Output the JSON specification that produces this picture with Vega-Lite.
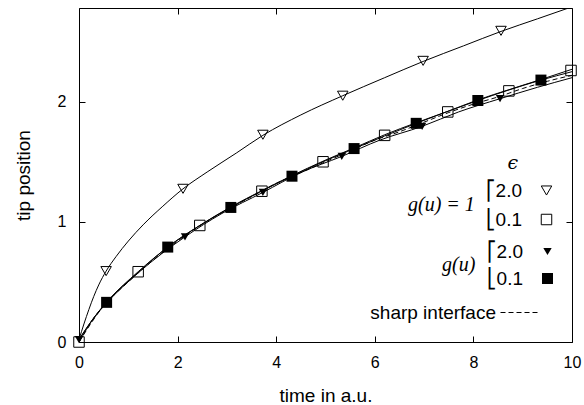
{
  "$schema": "https://vega.github.io/schema/vega-lite/v6.json",
  "width": 493,
  "height": 334,
  "autosize": "none",
  "padding": {"left": 79, "top": 8, "right": 12, "bottom": 63},
  "background": "white",
  "config": {
    "view": {"stroke": "black", "strokeWidth": 1},
    "font": "Liberation Sans",
    "mark": {"color": "black"},
    "axis": {
      "domain": false,
      "grid": false,
      "ticks": true,
      "offset": -6,
      "tickColor": "black",
      "tickSize": 6,
      "tickWidth": 1,
      "labelColor": "black",
      "labelFont": "Liberation Sans",
      "labelFontSize": 16,
      "titleColor": "black",
      "titleFont": "Liberation Sans",
      "titleFontSize": 19,
      "titleFontWeight": "normal",
      "labelFlush": false,
      "labelOverlap": false
    },
    "legend": {
      "padding": 0,
      "labelFont": "Liberation Sans",
      "labelFontSize": 19,
      "labelColor": "black",
      "labelAlign": "right",
      "labelOffset": -34,
      "titleFont": "Liberation Serif",
      "titleFontStyle": "italic",
      "titleFontWeight": "normal",
      "titleFontSize": 20,
      "titleColor": "black",
      "titleOrient": "left",
      "titleAnchor": "middle",
      "titleBaseline": "middle",
      "titlePadding": 62,
      "rowPadding": 9,
      "symbolStrokeWidth": 1,
      "symbolStrokeColor": "black",
      "orient": "none"
    }
  },
  "datasets": {
    "markers": [
      {"t": 0.55, "y": 0.59, "series": "g1_2.0"},
      {"t": 2.11, "y": 1.275, "series": "g1_2.0"},
      {"t": 3.73, "y": 1.725, "series": "g1_2.0"},
      {"t": 5.35, "y": 2.05, "series": "g1_2.0"},
      {"t": 6.98, "y": 2.34, "series": "g1_2.0"},
      {"t": 8.56, "y": 2.59, "series": "g1_2.0"},
      {"t": 0, "y": 0, "series": "g1_0.1"},
      {"t": 1.2, "y": 0.585, "series": "g1_0.1"},
      {"t": 2.45, "y": 0.97, "series": "g1_0.1"},
      {"t": 3.71, "y": 1.255, "series": "g1_0.1"},
      {"t": 4.95, "y": 1.5, "series": "g1_0.1"},
      {"t": 6.2, "y": 1.72, "series": "g1_0.1"},
      {"t": 7.48, "y": 1.915, "series": "g1_0.1"},
      {"t": 8.72, "y": 2.09, "series": "g1_0.1"},
      {"t": 9.98, "y": 2.26, "series": "g1_0.1"},
      {"t": 0, "y": 0.02, "series": "g_2.0"},
      {"t": 0.55, "y": 0.32, "series": "g_2.0"},
      {"t": 2.15, "y": 0.875, "series": "g_2.0"},
      {"t": 3.73, "y": 1.245, "series": "g_2.0"},
      {"t": 5.33, "y": 1.545, "series": "g_2.0"},
      {"t": 6.96, "y": 1.795, "series": "g_2.0"},
      {"t": 8.54, "y": 2.025, "series": "g_2.0"},
      {"t": 0.56, "y": 0.33, "series": "g_0.1"},
      {"t": 1.8, "y": 0.79, "series": "g_0.1"},
      {"t": 3.08, "y": 1.12, "series": "g_0.1"},
      {"t": 4.32, "y": 1.38, "series": "g_0.1"},
      {"t": 5.58, "y": 1.61, "series": "g_0.1"},
      {"t": 6.84, "y": 1.82, "series": "g_0.1"},
      {"t": 8.09, "y": 2.01, "series": "g_0.1"},
      {"t": 9.37, "y": 2.18, "series": "g_0.1"}
    ],
    "curves": [
      {"t": 0, "y": 0.02, "series": "g1_2.0"},
      {"t": 0.1, "y": 0.15, "series": "g1_2.0"},
      {"t": 0.2, "y": 0.27, "series": "g1_2.0"},
      {"t": 0.3, "y": 0.38, "series": "g1_2.0"},
      {"t": 0.4, "y": 0.475, "series": "g1_2.0"},
      {"t": 0.55, "y": 0.59, "series": "g1_2.0"},
      {"t": 0.75, "y": 0.71, "series": "g1_2.0"},
      {"t": 1.0, "y": 0.84, "series": "g1_2.0"},
      {"t": 1.3, "y": 0.975, "series": "g1_2.0"},
      {"t": 1.7, "y": 1.13, "series": "g1_2.0"},
      {"t": 2.11, "y": 1.275, "series": "g1_2.0"},
      {"t": 2.6, "y": 1.415, "series": "g1_2.0"},
      {"t": 3.2, "y": 1.575, "series": "g1_2.0"},
      {"t": 3.73, "y": 1.72, "series": "g1_2.0"},
      {"t": 4.5, "y": 1.89, "series": "g1_2.0"},
      {"t": 5.35, "y": 2.05, "series": "g1_2.0"},
      {"t": 6.2, "y": 2.2, "series": "g1_2.0"},
      {"t": 6.98, "y": 2.335, "series": "g1_2.0"},
      {"t": 7.8, "y": 2.465, "series": "g1_2.0"},
      {"t": 8.56, "y": 2.585, "series": "g1_2.0"},
      {"t": 9.3, "y": 2.69, "series": "g1_2.0"},
      {"t": 10, "y": 2.79, "series": "g1_2.0"},
      {"t": 0, "y": 0.0, "series": "g1_0.1"},
      {"t": 0.3, "y": 0.2, "series": "g1_0.1"},
      {"t": 0.6, "y": 0.35, "series": "g1_0.1"},
      {"t": 1.2, "y": 0.585, "series": "g1_0.1"},
      {"t": 1.8, "y": 0.79, "series": "g1_0.1"},
      {"t": 2.45, "y": 0.97, "series": "g1_0.1"},
      {"t": 3.08, "y": 1.125, "series": "g1_0.1"},
      {"t": 3.71, "y": 1.26, "series": "g1_0.1"},
      {"t": 4.32, "y": 1.385, "series": "g1_0.1"},
      {"t": 4.95, "y": 1.505, "series": "g1_0.1"},
      {"t": 5.58, "y": 1.615, "series": "g1_0.1"},
      {"t": 6.2, "y": 1.725, "series": "g1_0.1"},
      {"t": 6.84, "y": 1.825, "series": "g1_0.1"},
      {"t": 7.48, "y": 1.92, "series": "g1_0.1"},
      {"t": 8.09, "y": 2.015, "series": "g1_0.1"},
      {"t": 8.72, "y": 2.1, "series": "g1_0.1"},
      {"t": 9.37, "y": 2.185, "series": "g1_0.1"},
      {"t": 10, "y": 2.27, "series": "g1_0.1"},
      {"t": 0, "y": 0.02, "series": "g_2.0"},
      {"t": 0.3, "y": 0.2, "series": "g_2.0"},
      {"t": 0.55, "y": 0.32, "series": "g_2.0"},
      {"t": 1.2, "y": 0.575, "series": "g_2.0"},
      {"t": 2.15, "y": 0.875, "series": "g_2.0"},
      {"t": 2.9, "y": 1.07, "series": "g_2.0"},
      {"t": 3.73, "y": 1.245, "series": "g_2.0"},
      {"t": 4.5, "y": 1.41, "series": "g_2.0"},
      {"t": 5.33, "y": 1.545, "series": "g_2.0"},
      {"t": 6.1, "y": 1.68, "series": "g_2.0"},
      {"t": 6.96, "y": 1.795, "series": "g_2.0"},
      {"t": 7.7, "y": 1.915, "series": "g_2.0"},
      {"t": 8.54, "y": 2.025, "series": "g_2.0"},
      {"t": 9.3, "y": 2.12, "series": "g_2.0"},
      {"t": 10, "y": 2.2, "series": "g_2.0"},
      {"t": 0, "y": 0.02, "series": "g_0.1"},
      {"t": 0.3, "y": 0.2, "series": "g_0.1"},
      {"t": 0.56, "y": 0.33, "series": "g_0.1"},
      {"t": 1.2, "y": 0.58, "series": "g_0.1"},
      {"t": 1.8, "y": 0.79, "series": "g_0.1"},
      {"t": 2.45, "y": 0.97, "series": "g_0.1"},
      {"t": 3.08, "y": 1.12, "series": "g_0.1"},
      {"t": 3.7, "y": 1.255, "series": "g_0.1"},
      {"t": 4.32, "y": 1.38, "series": "g_0.1"},
      {"t": 4.95, "y": 1.5, "series": "g_0.1"},
      {"t": 5.58, "y": 1.61, "series": "g_0.1"},
      {"t": 6.2, "y": 1.715, "series": "g_0.1"},
      {"t": 6.84, "y": 1.82, "series": "g_0.1"},
      {"t": 7.45, "y": 1.915, "series": "g_0.1"},
      {"t": 8.09, "y": 2.01, "series": "g_0.1"},
      {"t": 8.7, "y": 2.095, "series": "g_0.1"},
      {"t": 9.37, "y": 2.18, "series": "g_0.1"},
      {"t": 10, "y": 2.25, "series": "g_0.1"}
    ],
    "sharp": [
      {"t": 0, "y": 0.0, "name": "sharp interface"},
      {"t": 0.5, "y": 0.3, "name": "sharp interface"},
      {"t": 1, "y": 0.5, "name": "sharp interface"},
      {"t": 1.5, "y": 0.68, "name": "sharp interface"},
      {"t": 2, "y": 0.84, "name": "sharp interface"},
      {"t": 2.5, "y": 0.98, "name": "sharp interface"},
      {"t": 3, "y": 1.1, "name": "sharp interface"},
      {"t": 3.5, "y": 1.21, "name": "sharp interface"},
      {"t": 4, "y": 1.32, "name": "sharp interface"},
      {"t": 4.5, "y": 1.41, "name": "sharp interface"},
      {"t": 5, "y": 1.5, "name": "sharp interface"},
      {"t": 5.5, "y": 1.59, "name": "sharp interface"},
      {"t": 6, "y": 1.68, "name": "sharp interface"},
      {"t": 6.5, "y": 1.75, "name": "sharp interface"},
      {"t": 7, "y": 1.83, "name": "sharp interface"},
      {"t": 7.5, "y": 1.91, "name": "sharp interface"},
      {"t": 8, "y": 1.98, "name": "sharp interface"},
      {"t": 8.5, "y": 2.04, "name": "sharp interface"},
      {"t": 9, "y": 2.11, "name": "sharp interface"},
      {"t": 9.5, "y": 2.17, "name": "sharp interface"},
      {"t": 10, "y": 2.22, "name": "sharp interface"}
    ]
  },
  "layer": [
    {
      "data": {"name": "curves"},
      "mark": {"type": "line", "interpolate": "monotone", "strokeWidth": 1, "color": "black", "clip": true},
      "encoding": {
        "x": {"field": "t", "type": "quantitative", "scale": {"domain": [0, 10]},
              "axis": {"orient": "bottom", "values": [0, 2, 4, 6, 8, 10], "title": "time in a.u.", "labelPadding": 12, "titlePadding": 16}},
        "y": {"field": "y", "type": "quantitative", "scale": {"domain": [0, 2.78]},
              "axis": {"orient": "left", "values": [0, 1, 2], "title": "tip position", "labelPadding": 13, "titlePadding": 24}},
        "detail": {"field": "series", "type": "nominal"}
      }
    },
    {
      "data": {"name": "sharp"},
      "mark": {"type": "line", "interpolate": "monotone", "strokeWidth": 1, "color": "black", "clip": true},
      "encoding": {
        "x": {"field": "t", "type": "quantitative", "scale": {"domain": [0, 10]}, "axis": null},
        "y": {"field": "y", "type": "quantitative", "scale": {"domain": [0, 2.78]}, "axis": null},
        "strokeDash": {"field": "name", "type": "nominal",
          "scale": {"domain": ["sharp interface"], "range": [[5, 3]]},
          "legend": {"title": null, "legendX": 421, "legendY": 284, "symbolSize": 1600, "labelOffset": -45, "symbolStrokeColor": "black", "symbolType": "stroke"}}
      }
    },
    {
      "data": {"name": "markers"},
      "transform": [{"filter": "indexof(datum.series, 'g1_') === 0"}],
      "mark": {"type": "point", "filled": false, "color": "black", "strokeWidth": 1, "size": 110, "opacity": 1},
      "encoding": {
        "x": {"field": "t", "type": "quantitative", "scale": {"domain": [0, 10]}, "axis": null},
        "y": {"field": "y", "type": "quantitative", "scale": {"domain": [0, 2.78]}, "axis": null},
        "shape": {"field": "series", "type": "nominal",
          "scale": {"domain": ["g1_2.0", "g1_0.1"], "range": ["triangle-down", "square"]},
          "legend": {"title": "g(u) = 1", "legendX": 329, "legendY": 173, "symbolSize": 110,
            "symbolFillColor": "transparent",
            "labelExpr": "indexof(datum.label, '2.0') >= 0 ? '⎡2.0' : '⎣0.1'"}}
      }
    },
    {
      "data": {"name": "markers"},
      "transform": [{"filter": "indexof(datum.series, 'g_') === 0"}],
      "mark": {"type": "point", "filled": true, "color": "black", "opacity": 1},
      "encoding": {
        "x": {"field": "t", "type": "quantitative", "scale": {"domain": [0, 10]}, "axis": null},
        "y": {"field": "y", "type": "quantitative", "scale": {"domain": [0, 2.78]}, "axis": null},
        "shape": {"field": "series", "type": "nominal",
          "scale": {"domain": ["g_2.0", "g_0.1"], "range": ["triangle-down", "square"]},
          "legend": {"title": "g(u)", "legendX": 363, "legendY": 234, "symbolFillColor": "black", "rowPadding": 7,
            "labelExpr": "indexof(datum.label, '2.0') >= 0 ? '⎡2.0' : '⎣0.1'"}},
        "size": {"field": "series", "type": "nominal",
          "scale": {"domain": ["g_2.0", "g_0.1"], "range": [70, 121]},
          "legend": {"title": "g(u)", "legendX": 363, "legendY": 234, "symbolFillColor": "black", "rowPadding": 7,
            "labelExpr": "indexof(datum.label, '2.0') >= 0 ? '⎡2.0' : '⎣0.1'"}}
      }
    },
    {
      "data": {"values": [{}]},
      "mark": {"type": "text", "text": "ϵ", "font": "DejaVu Serif", "fontStyle": "italic", "fontSize": 19, "color": "black", "baseline": "middle", "align": "center"},
      "encoding": {
        "x": {"datum": 8.8, "type": "quantitative", "scale": {"domain": [0, 10]}, "axis": null},
        "y": {"datum": 1.49, "type": "quantitative", "scale": {"domain": [0, 2.78]}, "axis": null}
      }
    },
    {
      "data": {"name": "sharp"},
      "mark": {"type": "point", "opacity": 0},
      "encoding": {
        "x": {"field": "t", "type": "quantitative", "scale": {"domain": [0, 10]},
              "axis": {"orient": "top", "values": [0, 2, 4, 6, 8, 10], "labels": false, "title": null}},
        "y": {"field": "y", "type": "quantitative", "scale": {"domain": [0, 2.78]},
              "axis": {"orient": "right", "values": [0, 1, 2], "labels": false, "title": null}}
      }
    }
  ],
  "resolve": {
    "scale": {"shape": "independent", "size": "independent", "strokeDash": "independent"},
    "legend": {"shape": "independent", "size": "independent", "strokeDash": "independent"},
    "axis": {"x": "independent", "y": "independent"}
  }
}
